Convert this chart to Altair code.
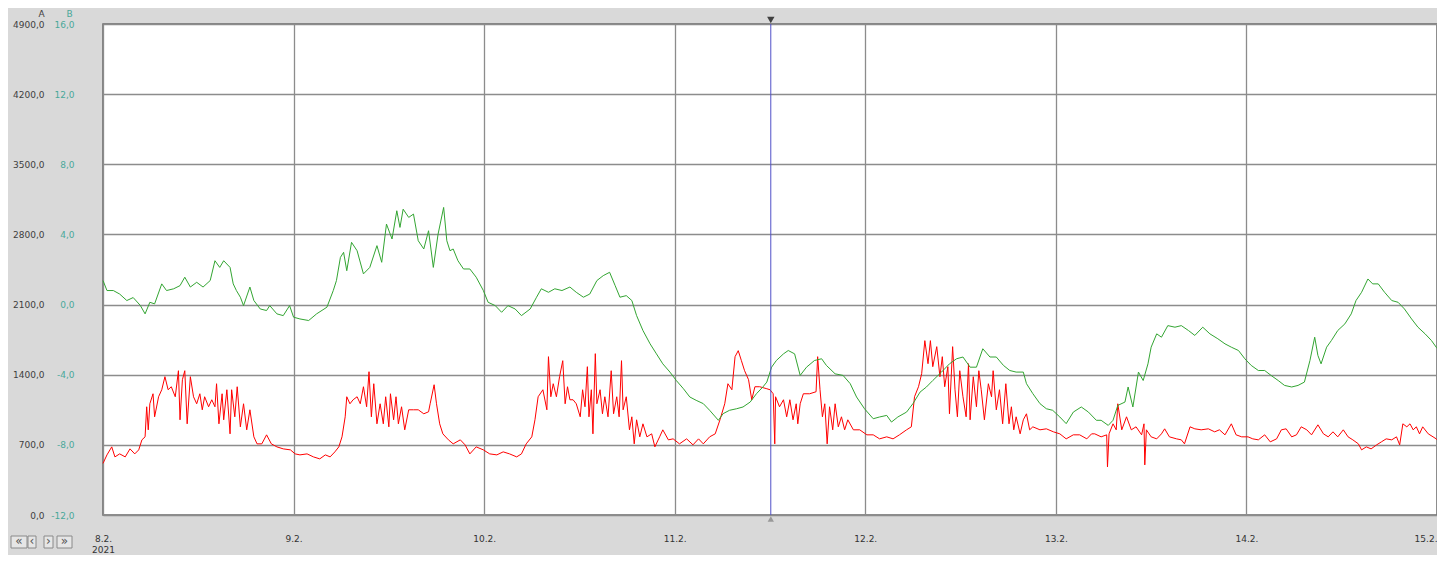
import altair as alt
import pandas as pd

START = "2021-02-08"
DAY_TICKS = [8, 9, 10, 11, 12, 13, 14, 15]

a_ticks = [0, 700, 1400, 2100, 2800, 3500, 4200, 4900]
b_ticks = [-12, -8, -4, 0, 4, 8, 12, 16]

# series A (red) - hours after 8.2.2021 00:00 and values
red_hours = [
    0.0, 0.5, 1.1, 1.5, 2.1, 2.8, 3.4, 4.0, 4.5, 4.9, 5.3, 5.5, 5.7, 5.9, 6.3, 6.5, 7.0, 7.4, 7.8, 8.2,
    8.6, 9.1, 9.5, 9.7, 10.0, 10.3, 10.6, 11.0, 11.4, 11.8, 12.2, 12.5, 12.8, 13.3, 13.7, 14.1, 14.3, 14.6,
    15.0, 15.2, 15.6, 16.0, 16.2, 16.6, 16.9, 17.3, 17.7, 18.1, 18.5, 19.0, 19.4, 20.0, 20.6, 21.2, 21.9,
    22.7, 23.6, 24.2, 24.8, 25.7, 26.5, 27.3, 28.0, 28.6, 29.2, 29.7, 30.1, 30.5, 30.7, 31.1, 31.5, 32.0,
    32.4, 32.8, 33.2, 33.5, 33.8, 34.1, 34.5, 34.9, 35.3, 35.6, 36.0, 36.2, 36.6, 36.9, 37.2, 37.6, 38.0,
    38.5, 39.1, 39.7, 40.4, 41.0,
    41.2, 41.7, 42.0, 42.4, 42.8, 43.5, 44.1, 45.0, 45.6, 46.2, 47.0, 47.9, 48.7, 49.6, 50.4, 51.2, 52.1,
    52.7, 53.3, 54.0, 54.4, 54.8, 55.4, 55.9, 56.1, 56.4, 56.7, 57.1, 57.5, 57.9, 58.2, 58.5, 58.8, 59.2,
    59.6, 60.1, 60.4, 60.7, 61.0, 61.2, 61.5, 61.7, 62.0, 62.2, 62.6, 62.9, 63.2, 63.6, 64.0, 64.3, 64.7,
    65.0, 65.3, 65.5, 65.9, 66.3, 66.6, 66.9, 67.2, 67.6, 68.0, 68.5, 69.1, 69.5, 70.1, 70.5, 71.2, 71.8,
    72.6, 73.5, 74.3, 75.0, 75.6, 76.4, 77.1, 77.7, 78.3, 78.7, 79.2, 79.6, 80.0, 80.4, 80.8, 81.3, 81.7,
    82.1, 82.7, 83.6,
    84.0, 84.4, 84.6, 84.7, 85.2, 85.7, 86.1, 86.5, 86.9, 87.3, 87.5, 87.8, 88.2, 89.0, 89.8, 90.0, 90.3,
    90.6, 90.9, 91.2, 91.5, 91.9, 92.2, 92.6, 93.0, 93.4, 93.8, 94.5, 95.3, 96.2, 97.0, 97.8, 98.7, 99.5,
    100.3, 101.2, 101.8, 102.2, 102.7, 103.1, 103.5, 103.9, 104.2, 104.5, 105.0, 105.4, 105.7, 106.0,
    106.4, 106.6, 107.0, 107.3, 107.6, 107.9, 108.3, 108.7, 109.0, 109.2, 109.6, 110.0, 110.3, 110.6,
    111.0, 111.5, 111.9, 112.1, 112.5, 112.9, 113.3, 113.7, 114.1, 114.4, 114.7, 115.0, 115.5, 115.9,
    116.3, 116.7, 117.1, 118.0, 118.8, 119.7, 120.5, 121.3, 122.2, 123.0, 123.9, 124.5,
    124.9, 125.7, 126.4, 126.5, 126.7, 127.2, 127.6, 127.8, 128.3, 128.9, 129.5, 130.1, 130.8, 131.1,
    131.2, 131.4, 132.0, 132.7, 133.3, 133.7, 134.3, 135.2, 135.8, 136.2, 136.9, 137.5, 138.3, 139.2,
    140.0, 140.6, 141.3, 142.1, 142.7, 143.4, 144.2, 144.8, 145.5, 146.3, 147.0, 147.8, 148.4, 149.0,
    149.7, 150.3, 150.9, 151.6, 152.2, 153.0, 153.7, 154.3, 154.9, 155.5, 156.2, 156.8, 157.4, 158.1,
    158.5, 159.1, 159.7, 160.4, 161.0, 161.6, 162.3, 162.9, 163.3, 163.7, 164.2, 164.6, 165.0, 165.4,
    165.8, 166.2, 166.9, 167.5, 167.9, 168.0,
]
red_values = [
    515, 600, 680, 580, 610, 580, 660, 610, 650, 750, 780, 1080, 850, 1110, 1210, 980, 1180, 1250, 1380, 1250,
    1280, 1180, 1440, 950, 1350, 1440, 910, 1380, 1180, 1110, 1210, 1050, 1180, 1080, 1150, 1080, 1310, 910,
    1210, 950, 1250, 810, 1250, 980, 1280, 880, 1110, 850, 1050, 780, 710, 710, 800, 710, 680,
    660, 650, 610, 600, 610, 580, 560, 600, 580, 630, 680, 780, 980, 1180, 1110, 1150, 1180,
    1110, 1280, 1080, 1430, 980, 1310, 910, 1110, 910, 1180, 880, 1210, 950, 1180, 910, 1080, 850,
    1050, 1050, 1050, 1010, 1030,
    1110, 1300, 1110, 910, 810, 750, 710, 750, 700, 610, 680, 650, 610, 600, 630, 610, 580,
    610, 710, 780, 950, 1180, 1250, 1050, 1580, 1180, 1310, 1180, 1380, 1540, 1110, 1280, 1150, 1150,
    1110, 980, 1250, 1080, 1480, 980, 1250, 810, 1610, 1110, 1250, 1010, 1180, 980, 1440, 1010, 1180,
    980, 1540, 1050, 1180, 850, 980, 710, 950, 780, 910, 780, 810, 680, 780, 850, 750, 760,
    710, 760, 700, 760, 710, 780, 810, 950, 1110, 1310, 1250, 1580, 1640, 1540, 1440, 1350, 1150,
    1280, 1280, 1260,
    1250, 1210, 710, 1180, 1080, 1150, 980, 1150, 950, 1110, 910, 1110, 1210, 1210, 1230, 1580, 1250,
    980, 1110, 710, 1080, 850, 1110, 880, 980, 850, 950, 850, 850, 800, 800, 760, 780, 760,
    800, 850, 880, 1180, 1280, 1410, 1740, 1510, 1740, 1480, 1680, 1380, 1580, 1280,
    1480, 1010, 1680, 1250, 980, 1440, 1180, 980, 1510, 950, 1380, 1080, 1440, 1250,
    950, 1310, 1180, 1440, 1050, 1250, 910, 1310, 910, 1080, 850, 980, 810, 950,
    1010, 850, 880, 850, 860, 830, 810, 760, 800, 800, 760, 810,
    810, 780, 800, 480, 810, 910, 850, 1110, 850, 980, 850, 880, 800, 910,
    500, 850, 780, 760, 810, 860, 780, 760, 750, 710, 880, 860, 850, 860,
    830, 850, 800, 910, 800, 780, 780, 760, 750, 800, 730, 760, 850, 860,
    780, 800, 880, 850, 800, 900, 810, 780, 830, 780, 850, 780, 750, 710,
    650, 680, 660, 700, 730, 760, 750, 780, 700, 910, 880, 910, 850, 880,
    810, 880, 810, 780, 760, 750,
]

# series B (green)
green_hours = [
    0.0, 0.5, 1.3, 2.1, 3.0, 3.8, 4.7, 5.3, 5.9, 6.5, 7.4, 8.0, 8.9, 9.7, 10.3, 11.0, 11.8, 12.6, 13.5,
    14.1, 14.7, 15.2, 16.0, 16.4, 16.8, 17.3, 17.7, 18.5, 19.0, 19.8, 20.6, 21.0, 21.9, 22.7, 23.5, 24.0,
    24.8, 25.9, 26.9, 28.2, 29.0, 29.4, 29.9, 30.3, 30.7, 31.3, 32.0, 32.8, 33.6, 34.5, 35.1, 35.7, 36.4,
    37.0, 37.4, 37.8, 38.5, 39.1, 39.7, 40.4, 41.0, 41.6, 42.2, 42.9, 43.3, 43.7, 44.1, 44.7, 45.4, 46.2,
    47.0, 47.9, 48.5, 49.4, 50.2, 51.0, 51.9, 52.7, 53.8, 54.6, 55.2, 56.1, 56.9, 57.8, 58.8, 59.6, 60.5,
    61.3, 62.2, 63.0, 63.8, 64.5, 65.1, 65.9, 66.6, 67.2, 68.0, 68.9, 69.7, 70.5, 71.4, 72.2, 73.1, 73.9,
    74.7, 75.6, 76.4, 77.5, 78.1, 78.9, 79.8, 80.6, 81.5, 82.3, 83.1, 83.6, 84.2, 84.8, 85.7, 86.3, 87.1,
    87.8, 88.6, 89.6, 90.5, 91.1, 92.2, 93.2, 94.1, 94.9, 95.9, 97.0, 97.8, 98.7, 99.3, 100.1, 101.2,
    102.0, 102.9, 103.7, 104.5, 105.6, 106.6, 107.5, 108.3, 109.2, 110.0, 110.8, 111.7, 112.5, 113.4,
    114.2, 115.0, 115.9, 116.3, 117.1, 118.0, 118.8, 119.6, 120.5, 121.3, 122.2, 123.2, 124.1, 125.1,
    125.7, 126.6, 127.2, 127.8, 128.7, 129.1, 129.7, 130.4, 131.0, 131.6, 132.0, 132.7, 133.3, 134.1,
    135.0, 135.8, 136.7, 137.5, 138.5, 139.4, 140.4, 141.3, 142.1, 143.0, 143.8, 144.6, 145.5, 146.3,
    147.1, 148.0, 148.8, 149.7, 150.5, 151.3, 152.0, 152.6, 153.0, 153.4, 154.1, 154.7, 155.5, 156.4,
    157.2, 157.8, 158.5, 159.3, 159.9, 160.6, 161.4, 162.3, 163.1, 163.9, 164.8, 165.6, 166.5, 167.3,
    167.9, 168.0,
]
green_values = [
    1.37, 0.8, 0.8, 0.6, 0.23, 0.4, -0.05, -0.53, 0.13, 0.04, 1.18, 0.8, 0.9, 1.08, 1.56, 1.0, 1.27, 1.0, 1.37,
    2.5, 2.12, 2.5, 2.12, 1.18, 0.8, 0.42, -0.06, 1.0, 0.23, -0.25, -0.34, -0.06, -0.53, -0.63, -0.06, -0.72,
    -0.82, -0.91, -0.53, -0.15, 0.8, 1.37, 2.69, 2.98, 1.93, 3.55, 3.07, 1.75, 2.12, 3.36, 2.41, 4.59, 3.74,
    5.35, 4.4, 5.44, 4.97, 5.16, 3.64, 3.17, 4.21, 2.12, 4.02, 5.54, 3.64, 3.07, 3.17, 2.5, 2.03, 2.03,
    1.56, 0.8, 0.13, -0.06, -0.44, -0.06, -0.25, -0.63, -0.25, 0.42, 0.9, 0.7, 0.9, 0.8, 1.0, 0.7, 0.42,
    0.6, 1.37, 1.65, 1.84, 1.08, 0.42, 0.51, 0.23, -0.63, -1.48, -2.24, -2.81, -3.38, -3.85, -4.33, -4.8, -5.27,
    -5.46, -5.65, -6.03, -6.6, -6.22, -6.03, -5.94, -5.84, -5.56, -5.08, -4.7, -4.42, -3.57, -3.19, -2.81, -2.62, -2.81,
    -4.04, -3.57, -3.19, -3.09, -3.47, -3.95, -4.04, -4.51, -5.27, -5.94, -6.51, -6.41, -6.32, -6.7, -6.41, -6.13,
    -5.65, -4.99, -4.7, -4.33, -3.85, -3.38, -3.09, -2.99, -3.57, -3.57, -2.52, -2.99, -2.99, -3.47,
    -3.76, -3.85, -3.85, -4.51, -5.08, -5.65, -5.94, -6.03, -6.41, -6.79, -6.13, -5.84, -6.13, -6.6,
    -6.6, -6.89, -6.6, -5.75, -5.56, -4.7, -5.84, -3.85, -4.33, -3.38, -2.43, -1.67, -1.86, -1.2,
    -1.29, -1.2, -1.48, -1.76, -1.29, -1.67, -1.95, -2.24, -2.43, -2.62, -3.09, -3.47, -3.76, -3.76,
    -4.04, -4.33, -4.61, -4.7, -4.61, -4.42, -3.19, -1.86, -2.9, -3.38, -2.43, -2.05, -1.48, -1.1,
    -0.53, 0.23, 0.7, 1.46, 1.18, 1.18, 0.7, 0.23, 0.13, -0.25, -0.82, -1.29, -1.67, -2.05,
    -2.43, -2.5,
]

cursor_hour = 84.1
buttons = ["«", "‹", "›", "»"]

FONT = "DejaVu Sans"
TEAL = "#4aa899"
GRID = "#8c8c8c"

start = pd.Timestamp(START)
red_df = pd.DataFrame({"t": start + pd.to_timedelta(red_hours, unit="h"), "A": red_values})
green_df = pd.DataFrame({"t": start + pd.to_timedelta(green_hours, unit="h"), "B": green_values})
cursor_df = pd.DataFrame({"t": [start + pd.to_timedelta(cursor_hour, unit="h")]})

x_enc = alt.X(
    "t:T",
    title=None,
    scale=alt.Scale(domain=[alt.DateTime(year=2021, month=2, date=DAY_TICKS[0]),
                            alt.DateTime(year=2021, month=2, date=DAY_TICKS[-1])]),
    axis=alt.Axis(
        values=[alt.DateTime(year=2021, month=2, date=d) for d in DAY_TICKS],
        labelExpr="datum.index == 0 ? [timeFormat(datum.value, '%-d.%-m.'), timeFormat(datum.value, '%Y')] : timeFormat(datum.value, '%-d.%-m.')",
        labelAlign=alt.condition("datum.index == 1", alt.value("right"), alt.value("center")),
        grid=True, gridColor=GRID, gridWidth=1.3, gridOpacity=1,
        ticks=False, tickSize=0, domain=False,
        labelFlush=False, labelOverlap=False, labelBound=False,
        labelPadding=19, labelFont=FONT, labelFontSize=9, labelColor="#333333",
        labelLineHeight=11,
    ),
)

label_fmt = "replace(replace(format(datum.value, '.1f'), '.', ','), '\u2212', '-')"

red = alt.Chart(red_df).mark_line(color="#ff0000", strokeWidth=1).encode(
    x=x_enc,
    y=alt.Y("A:Q", scale=alt.Scale(domain=[0, 4900], nice=False, zero=False),
            axis=alt.Axis(orient="left", values=a_ticks, labelExpr=label_fmt,
                          grid=True, gridColor=GRID, gridWidth=1.3, gridOpacity=1,
                          ticks=False, tickSize=0, domain=False, labelPadding=59,
                          labelFont=FONT, labelFontSize=9, labelColor="#404040",
                          title="A", titleAngle=0, titleX=-62, titleY=-11,
                          titleAlign="center", titleBaseline="middle",
                          titleFont=FONT, titleFontSize=9, titleFontWeight="normal",
                          titleColor="#404040")),
)

green = alt.Chart(green_df).mark_line(color="#33a532", strokeWidth=1).encode(
    x=x_enc,
    y=alt.Y("B:Q", scale=alt.Scale(domain=[-12, 16], nice=False, zero=False),
            axis=alt.Axis(orient="left", values=b_ticks, labelExpr=label_fmt,
                          grid=False, ticks=False, tickSize=0, domain=False, labelPadding=29,
                          labelFont=FONT, labelFontSize=9, labelColor=TEAL,
                          title="B", titleAngle=0, titleX=-34, titleY=-11,
                          titleAlign="center", titleBaseline="middle",
                          titleFont=FONT, titleFontSize=9, titleFontWeight="normal",
                          titleColor=TEAL)),
)

cursor = alt.Chart(cursor_df).mark_rule(color="#5050c8", strokeWidth=1).encode(x=x_enc)
tri_top = alt.Chart(cursor_df).mark_point(shape="triangle-down", filled=True, size=55,
                                          color="#404040", opacity=1).encode(x=x_enc, y=alt.value(-4))
tri_bot = alt.Chart(cursor_df).mark_point(shape="triangle-up", filled=True, size=40,
                                          color="#999999", opacity=1).encode(x=x_enc, y=alt.value(495))

# navigation buttons (decoration under the axis labels)
btn_boxes = [(-92, -76), (-75, -67), (-59, -50), (-46, -31)]
btn_layers = []
for label, (bx0, bx1) in zip(buttons, btn_boxes):
    bdf = pd.DataFrame({"label": [label]})
    btn_layers.append(alt.Chart(bdf).mark_rect(fill="#e6e6e6", stroke="#8a8a8a", strokeWidth=1).encode(
        x=alt.value(bx0), x2=alt.value(bx1), y=alt.value(512), y2=alt.value(524)))
    btn_layers.append(alt.Chart(bdf).mark_text(font=FONT, fontSize=12, color="#555555",
                                               baseline="middle", align="center").encode(
        x=alt.value((bx0 + bx1) / 2), y=alt.value(517), text="label:N"))

chart = alt.layer(red, green, cursor, tri_top, tri_bot, *btn_layers).resolve_scale(
    y="independent"
).properties(
    width=1334, height=491,
    autosize=alt.AutoSizeParams(type="none"),
    padding={"left": 95, "top": 16, "right": 0, "bottom": 40},
    background="#d9d9d9",
).configure_view(fill="white", stroke="#6a6a6a", strokeWidth=1.5)

chart.save("out.html", embed_options={"renderer": "svg", "actions": False})
